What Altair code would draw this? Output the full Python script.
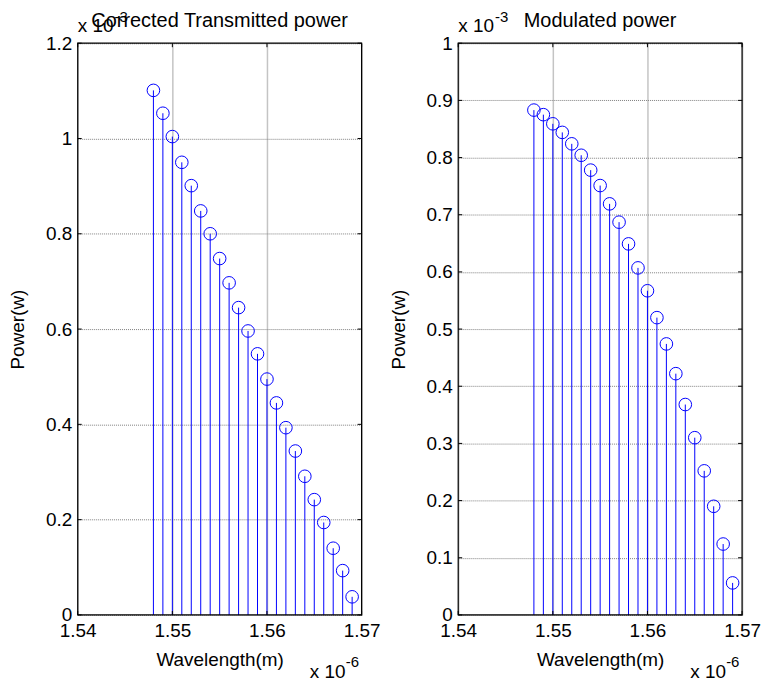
import altair as alt
import pandas as pd

# ---- data ----
wavelength = [1.548, 1.549, 1.550, 1.551, 1.552, 1.553, 1.554, 1.555, 1.556, 1.557, 1.558,
              1.559, 1.560, 1.561, 1.562, 1.563, 1.564, 1.565, 1.566, 1.567, 1.568, 1.569]
transmitted = [1.101, 1.053, 1.004, 0.950, 0.901, 0.848, 0.800, 0.748, 0.697, 0.645, 0.596,
               0.548, 0.495, 0.445, 0.393, 0.344, 0.291, 0.242, 0.194, 0.140, 0.093, 0.038]
modulated = [0.883, 0.875, 0.859, 0.844, 0.824, 0.804, 0.778, 0.751, 0.719, 0.687, 0.649,
             0.607, 0.567, 0.520, 0.474, 0.422, 0.368, 0.310, 0.252, 0.190, 0.124, 0.056]
x_ticks = [1.54, 1.55, 1.56, 1.57]
y_ticks_left = [0, 0.2, 0.4, 0.6, 0.8, 1.0, 1.2]
y_ticks_right = [0, 0.1, 0.2, 0.3, 0.4, 0.5, 0.6, 0.7, 0.8, 0.9, 1.0]
titles = ["Corrected Transmitted power", "Modulated power"]
x_label = "Wavelength(m)"
y_label = "Power(w)"
exp_base = "x 10"
y_exponent = "-3"
x_exponent = "-6"

W, H = 285, 574
FONT = "Liberation Sans"
BLUE = "#0000ff"


def text_layer(txt, x, y, size, align="left"):
    return alt.Chart(pd.DataFrame({"t": [txt]})).mark_text(
        align=align, baseline="alphabetic", font=FONT, fontSize=size, color="black"
    ).encode(text="t:N", x=alt.value(x), y=alt.value(y))


def panel(values, y_max, y_ticks, title):
    df = pd.DataFrame({"wl": wavelength, "p": values})
    xs = alt.Scale(domain=[1.54, 1.57], nice=False, zero=False)
    ys = alt.Scale(domain=[0, y_max], nice=False, zero=True)
    x_axis = alt.Axis(values=x_ticks, format=".2f", title=x_label, grid=True,
                      gridColor="#c4c4c4", gridWidth=1.5, ticks=False, tickSize=0, domain=False,
                      labelFlush=False, labelOverlap=False, labelPadding=7,
                      labelFont=FONT, labelFontSize=19, labelColor="black",
                      titleFont=FONT, titleFontSize=19, titleFontWeight="normal",
                      titleColor="black", titlePadding=10)
    y_axis = alt.Axis(values=y_ticks, format="~g", title=y_label, grid=True,
                      gridColor="#808080", gridDash=[1, 1], gridWidth=1,
                      ticks=False, tickSize=0, domain=False, labelOverlap=False,
                      labelPadding=6, labelFont=FONT, labelFontSize=19, labelColor="black",
                      titleFont=FONT, titleFontSize=19, titleFontWeight="normal",
                      titleColor="black", titlePadding=16, minExtent=34, maxExtent=34)
    base = alt.Chart(df)
    stems = base.mark_rule(color=BLUE, strokeWidth=1).encode(
        x=alt.X("wl:Q", scale=xs, axis=x_axis),
        y=alt.Y("p:Q", scale=ys, axis=y_axis),
        y2=alt.datum(0),
    )
    dots = base.mark_point(shape="circle", filled=False, color=BLUE, size=160,
                           strokeWidth=1, opacity=1).encode(
        x=alt.X("wl:Q", scale=xs), y=alt.Y("p:Q", scale=ys))
    xt = alt.Chart(pd.DataFrame({"wl": x_ticks}))
    xt_bottom = xt.mark_rule(color="black", strokeWidth=1).encode(
        x=alt.X("wl:Q", scale=xs), y=alt.value(H - 4), y2=alt.value(H))
    xt_top = xt.mark_rule(color="black", strokeWidth=1).encode(
        x=alt.X("wl:Q", scale=xs), y=alt.value(0), y2=alt.value(4))
    yt = alt.Chart(pd.DataFrame({"p": y_ticks}))
    yt_left = yt.mark_rule(color="black", strokeWidth=1).encode(
        y=alt.Y("p:Q", scale=ys), x=alt.value(0), x2=alt.value(4))
    yt_right = yt.mark_rule(color="black", strokeWidth=1).encode(
        y=alt.Y("p:Q", scale=ys), x=alt.value(W - 4), x2=alt.value(W))
    frame = alt.Chart(pd.DataFrame({"f": [0]})).mark_rect(
        fill=None, stroke="black", strokeWidth=1.2
    ).encode(x=alt.value(0), x2=alt.value(W), y=alt.value(0), y2=alt.value(H))

    layers = [
        stems, dots, xt_bottom, xt_top, yt_left, yt_right, frame,
        text_layer(exp_base, 0, -11, 19),
        text_layer(y_exponent, 37, -21, 15),
        text_layer(title, W / 2, -16, 20, align="center"),
        text_layer(exp_base, 233, H + 63, 19),
        text_layer(x_exponent, 269, H + 52, 15),
    ]
    return alt.layer(*layers).properties(width=W, height=H)


left = panel(transmitted, 1.2, y_ticks_left, titles[0])
right = panel(modulated, 1.0, y_ticks_right, titles[1])

chart = alt.hconcat(left, right, spacing=97, bounds="flush").properties(
    padding={"left": 0, "top": 0, "right": 0, "bottom": 0}
).configure_view(stroke="black", strokeWidth=1).configure(background="white")

chart.save("out.html", embed_options={"renderer": "svg", "actions": False})
